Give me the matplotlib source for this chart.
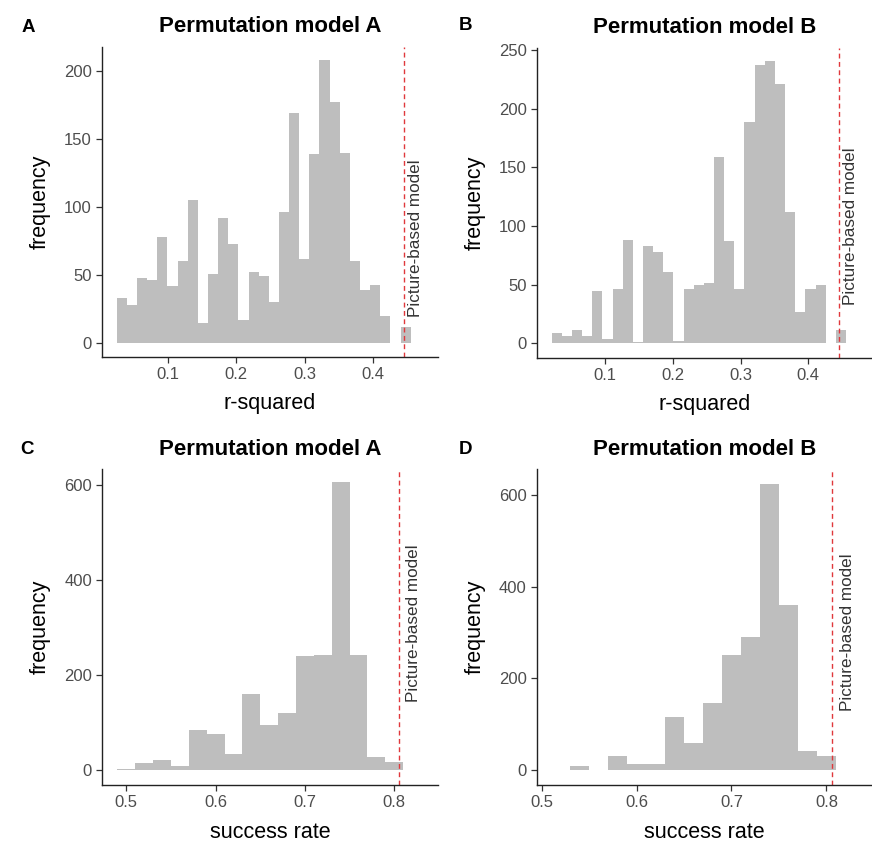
import matplotlib
matplotlib.use("Agg")
import matplotlib.pyplot as plt
import numpy as np

plt.rcParams['font.family'] = ['Liberation Sans', 'DejaVu Sans']

# ---------------- data ----------------
# Panel A: r-squared, permutation model A
a_start, a_width = 0.0242, 0.01489
a_counts = [33, 28, 48, 46, 78, 42, 60, 105, 15, 51, 92, 73, 17, 52, 49, 30,
            96, 169, 62, 139, 208, 177, 140, 60, 39, 43, 20, 0, 12]
# Panel B: r-squared, permutation model B
b_start, b_width = 0.0207, 0.01501
b_counts = [9, 6, 11, 6, 45, 4, 46, 88, 1, 83, 78, 61, 2, 46, 50, 51,
            159, 87, 46, 189, 237, 241, 221, 112, 27, 46, 50, 0, 11]
# Panel C: success rate, permutation model A
c_start, c_width = 0.49, 0.02
c_counts = [1, 14, 21, 9, 85, 75, 34, 160, 95, 121, 240, 243, 607, 243, 27, 17]
# Panel D: success rate, permutation model B
d_start, d_width = 0.53, 0.02
d_counts = [9, 0, 31, 14, 14, 115, 60, 147, 250, 290, 624, 359, 42, 30]

picture_r2 = 0.4455
picture_success = 0.8057

titles = ["Permutation model A", "Permutation model B",
          "Permutation model A", "Permutation model B"]
letters = ["A", "B", "C", "D"]
xlabels = ["r-squared", "r-squared", "success rate", "success rate"]
ylabel = "frequency"
annot = "Picture-based model"

a_xticks = [0.1, 0.2, 0.3, 0.4]
c_xticks = [0.5, 0.6, 0.7, 0.8]
a_yticks = [0, 50, 100, 150, 200]
b_yticks = [0, 50, 100, 150, 200, 250]
c_yticks = [0, 200, 400, 600]

# ---------------- figure ----------------
W, H = 872, 842
fig = plt.figure(figsize=(W / 100, H / 100), dpi=100)


def px_axes(l, r, t, b):
    return fig.add_axes([l / W, (H - b) / H, (r - l) / W, (b - t) / H])


panels = [
    dict(pos=(101.7, 438.0, 46.7, 357.0), start=a_start, width=a_width, counts=a_counts,
         xlim=(0.0022, 0.496), ylim=(-10.3, 217.9), xticks=a_xticks, yticks=a_yticks,
         vline=picture_r2, ann=(0.4623, 77)),
    dict(pos=(536.7, 873.0, 47.7, 358.3), start=b_start, width=b_width, counts=b_counts,
         xlim=(-0.0015, 0.496), ylim=(-12.8, 252), xticks=a_xticks, yticks=b_yticks,
         vline=picture_r2, ann=(0.462, 100)),
    dict(pos=(101.7, 438.0, 469.3, 785.0), start=c_start, width=c_width, counts=c_counts,
         xlim=(0.4725, 0.849), ylim=(-31.8, 634), xticks=c_xticks, yticks=c_yticks,
         vline=picture_success, ann=(0.8211, 310)),
    dict(pos=(536.5, 873.0, 469.3, 785.0), start=d_start, width=d_width, counts=d_counts,
         xlim=(0.4947, 0.849), ylim=(-32.7, 656), xticks=c_xticks, yticks=c_yticks,
         vline=picture_success, ann=(0.8226, 300)),
]

letter_pos = [(28, 27), (465, 25), (27, 450), (465, 450)]

for i, p in enumerate(panels):
    l, r, t, b = p["pos"]
    ax = px_axes(l, r, t, b)
    counts = np.array(p["counts"], dtype=float)
    edges = p["start"] + p["width"] * np.arange(len(counts) + 1)
    ax.bar(edges[:-1], counts, width=p["width"], align="edge",
           color="#bebebe", edgecolor="none", linewidth=0)
    ax.axvline(p["vline"], color="#e0383c", lw=1.0, ls=(0, (3.5, 2.5)))
    ax.text(p["ann"][0], p["ann"][1], annot, rotation=90, ha="center", va="center",
            fontsize=12.3, color="#333333")
    ax.set_xlim(*p["xlim"])
    ax.set_ylim(*p["ylim"])
    ax.set_xticks(p["xticks"])
    ax.set_xticklabels([f"{v:g}" for v in p["xticks"]])
    ax.set_yticks(p["yticks"])
    ax.set_yticklabels([str(v) for v in p["yticks"]])
    for s in ["top", "right"]:
        ax.spines[s].set_visible(False)
    for s in ["left", "bottom"]:
        ax.spines[s].set_color("#222222")
        ax.spines[s].set_linewidth(1.0)
    ax.tick_params(axis="both", direction="out", length=4, width=0.9,
                   color="#333333", labelcolor="#4d4d4d", labelsize=12, pad=3)
    ax.set_xlabel(xlabels[i], fontsize=15.5, color="black", va="center")
    ax.set_ylabel(ylabel, fontsize=15.5, color="black", va="center")
    axh = b - t
    axw = r - l
    xl_y = 404 if i < 2 else 832
    ax.xaxis.set_label_coords(0.5, (b - xl_y) / axh)
    ax.yaxis.set_label_coords((40 - l) / axw if i % 2 == 0 else (475 - l) / axw, 0.5)
    ax.set_facecolor("white")
    fig.text((l + r) / 2 / W, 1 - (t - 20) / H, titles[i], ha="center", va="center",
             fontsize=16, fontweight="bold", color="black")
    lx, ly = letter_pos[i]
    fig.text(lx / W, 1 - ly / H, letters[i], ha="center", va="center",
             fontsize=13.5, fontweight="bold", color="black")

fig.savefig("out.png", dpi=100, facecolor="white")
